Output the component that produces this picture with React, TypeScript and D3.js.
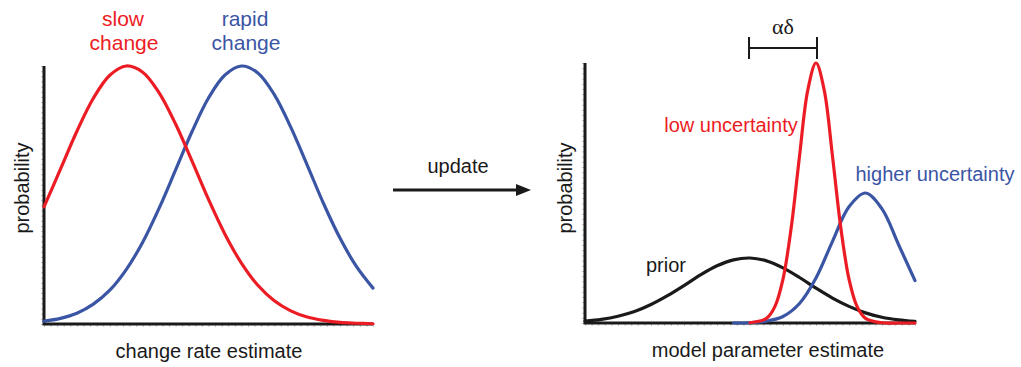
import React, { useRef, useEffect } from 'react';
import * as d3 from 'd3';

// x positions (arbitrary estimate units, 0..10) shared by sampled curves
const xsLeft = [0, 0.5, 1, 1.5, 2, 2.5, 3, 3.5, 4, 4.5, 5, 5.5, 6, 6.5, 7, 7.5, 8, 8.5, 9, 9.5, 10];

// left panel: change rate estimate
const slowChange = [0.454, 0.6, 0.747, 0.875, 0.964, 1.0, 0.976, 0.896, 0.775, 0.631, 0.483, 0.348, 0.236, 0.15, 0.09, 0.051, 0.027, 0.014, 0.006, 0.003, 0.001];
const rapidChange = [0.011, 0.022, 0.042, 0.077, 0.131, 0.211, 0.317, 0.449, 0.597, 0.746, 0.876, 0.965, 1.0, 0.973, 0.889, 0.763, 0.616, 0.466, 0.332, 0.222, 0.139];

// right panel: model parameter estimate
const xsPrior = xsLeft;
const prior = [0.007, 0.014, 0.026, 0.044, 0.071, 0.105, 0.144, 0.185, 0.22, 0.243, 0.25, 0.239, 0.212, 0.175, 0.134, 0.096, 0.064, 0.039, 0.022, 0.012, 0.006];

const xsLow = [5, 5.5, 5.75, 6, 6.25, 6.5, 6.75, 7, 7.25, 7.5, 7.75, 8, 8.25, 8.5, 9, 9.5, 10];
const lowUncertainty = [0.001, 0.018, 0.062, 0.169, 0.368, 0.641, 0.895, 1.0, 0.895, 0.641, 0.368, 0.169, 0.062, 0.018, 0.001, 0, 0];

const xsHigh = [4.5, 5, 5.5, 6, 6.5, 7, 7.5, 8, 8.5, 9, 9.5, 10];
const higherUncertainty = [0, 0.001, 0.007, 0.025, 0.075, 0.173, 0.314, 0.447, 0.5, 0.439, 0.302, 0.163];

// alpha-delta bracket: prior mean -> low-uncertainty mean
const priorMean = 4.94;
const lowMean = 7.0;

const RED = '#ec1c24';
const BLUE = '#3b55a5';
const FONT = '"Liberation Sans", Arial, Helvetica, sans-serif';

function App() {
  const svgRef = useRef(null);

  useEffect(() => {
    const svg = d3.select(svgRef.current);
    svg.selectAll('*').remove();

    const xL = d3.scaleLinear().domain([0, 10]).range([44, 373]);
    const yL = d3.scaleLinear().domain([0, 1]).range([324, 66]);
    const xR = d3.scaleLinear().domain([0, 10]).range([585, 915]);
    const yR = d3.scaleLinear().domain([0, 1]).range([323, 63]);

    const drawAxes = (x, y) => {
      // faint minor ticks
      svg.append('g')
        .attr('transform', `translate(0,${y(0)})`)
        .call(d3.axisBottom(x).ticks(55).tickSize(3).tickFormat(() => ''))
        .call(g => g.select('.domain').remove())
        .selectAll('line').attr('stroke', '#999').attr('stroke-width', 0.6);
      svg.append('g')
        .attr('transform', `translate(${x(0)},0)`)
        .call(d3.axisLeft(y).ticks(45).tickSize(3).tickFormat(() => ''))
        .call(g => g.select('.domain').remove())
        .selectAll('line').attr('stroke', '#999').attr('stroke-width', 0.6);

      svg.append('path')
        .attr('d', `M${x(0)},${y(1)}V${y(0)}H${x(10)}`)
        .attr('fill', 'none')
        .attr('stroke', '#1a1a1a')
        .attr('stroke-width', 3)
        .attr('stroke-linejoin', 'miter');
    };

    const drawCurve = (xs, ys, x, y, color) => {
      const line = d3.line()
        .x((d, i) => x(xs[i]))
        .y(d => y(d))
        .curve(d3.curveCatmullRom.alpha(0.5));
      svg.append('path')
        .datum(ys)
        .attr('d', line)
        .attr('fill', 'none')
        .attr('stroke', color)
        .attr('stroke-width', 3.2)
        .attr('stroke-linecap', 'round');
    };

    const label = (txt, x, y, color, anchor = 'middle', size = 20) =>
      svg.append('text')
        .attr('x', x).attr('y', y)
        .attr('text-anchor', anchor)
        .attr('fill', color)
        .style('font-family', FONT)
        .style('font-size', `${size}px`)
        .text(txt);

    // left panel
    drawAxes(xL, yL);
    drawCurve(xsLeft, rapidChange, xL, yL, BLUE);
    drawCurve(xsLeft, slowChange, xL, yL, RED);
    label('slow', 123, 26, RED, 'middle', 21);
    label('change', 124, 50, RED, 'middle', 21);
    label('rapid', 245, 26, BLUE, 'middle', 21);
    label('change', 246, 50, BLUE, 'middle', 21);
    label('change rate estimate', 209, 358, '#1a1a1a');
    svg.append('text')
      .attr('transform', 'translate(29,188) rotate(-90)')
      .attr('text-anchor', 'middle')
      .attr('fill', '#1a1a1a')
      .style('font-family', FONT)
      .style('font-size', '20px')
      .text('probability');

    // update arrow
    svg.append('line')
      .attr('x1', 393).attr('x2', 520).attr('y1', 190).attr('y2', 190)
      .attr('stroke', '#1a1a1a').attr('stroke-width', 3);
    svg.append('path')
      .attr('d', 'M516,184L531,190L516,196Z')
      .attr('fill', '#1a1a1a');
    label('update', 458, 173, '#1a1a1a');

    // right panel
    drawAxes(xR, yR);
    drawCurve(xsPrior, prior, xR, yR, '#1a1a1a');
    drawCurve(xsHigh, higherUncertainty, xR, yR, BLUE);
    drawCurve(xsLow, lowUncertainty, xR, yR, RED);
    label('low uncertainty', 731, 132, RED);
    label('higher uncertainty', 935, 181, BLUE);
    label('prior', 666, 272, '#1a1a1a');
    label('model parameter estimate', 768, 357, '#1a1a1a');
    svg.append('text')
      .attr('transform', 'translate(572,188) rotate(-90)')
      .attr('text-anchor', 'middle')
      .attr('fill', '#1a1a1a')
      .style('font-family', FONT)
      .style('font-size', '20px')
      .text('probability');

    // alpha-delta bracket
    const bx0 = xR(priorMean) + 1;
    const bx1 = xR(lowMean) + 1;
    svg.append('path')
      .attr('d', `M${bx0},37V59M${bx0},48H${bx1}M${bx1},37V59`)
      .attr('fill', 'none')
      .attr('stroke', '#1a1a1a')
      .attr('stroke-width', 2);
    svg.append('text')
      .attr('x', (bx0 + bx1) / 2).attr('y', 34)
      .attr('text-anchor', 'middle')
      .attr('fill', '#1a1a1a')
      .style('font-family', '"Liberation Serif", "DejaVu Serif", serif')
      .style('font-size', '22px')
      .text('αδ');
  }, []);

  return (
    <svg
      ref={svgRef}
      width={1021}
      height={367}
      style={{ position: 'absolute', left: 0, top: 0, background: '#fff' }}
    />
  );
}

export default App;
